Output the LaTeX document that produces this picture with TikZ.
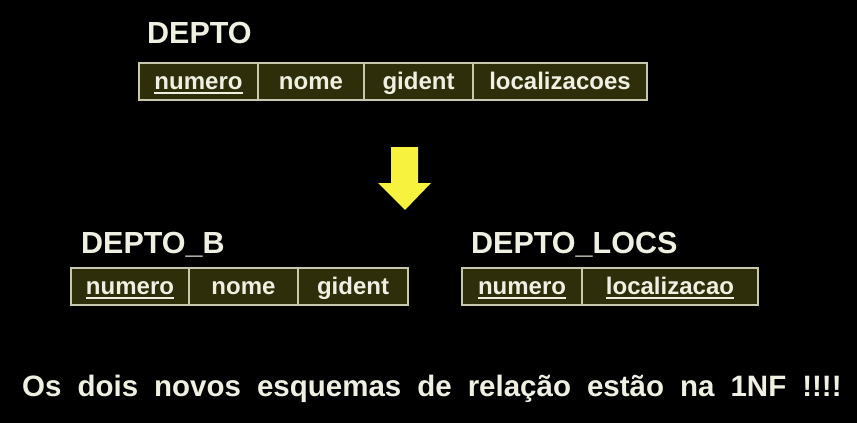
\documentclass[tikz,border=0pt]{standalone}
\usepackage{fontspec}
\setmainfont{Liberation Sans}
\usepackage{tikz}
\usetikzlibrary{positioning}
\definecolor{cellfill}{RGB}{46,46,10}
\definecolor{cellline}{RGB}{200,200,172}
\definecolor{slidetext}{RGB}{240,240,226}
\definecolor{arrowyellow}{RGB}{246,242,62}
\newcommand{\pkey}[1]{\setbox0\hbox{#1}\rlap{\copy0}\rule[-5pt]{\wd0}{2.5pt}}

\begin{document}
\begin{tikzpicture}[x=1pt,y=-1pt]

	\tikzstyle{attrcell} = [draw=cellline,fill=cellfill,line width=1.6pt,inner sep=0pt,outer sep=0pt,minimum height=37pt,text height=18pt,text depth=3pt,text=slidetext,font=\fontsize{24}{28}\selectfont\bfseries]
	\tikzstyle{relname} = [anchor=base west,inner sep=0pt,text=slidetext,font=\fontsize{30.5}{34}\selectfont\bfseries]

	\fill[black] (0,0) rectangle (857,423);

	% DEPTO
	\node[relname] (depto) at (147,43) {DEPTO};
	\node[attrcell,minimum width=119pt,anchor=north west] (d1) at (139,63) {\pkey{numero}};
	\node[attrcell,minimum width=106pt,right=0pt of d1] (d2) {nome};
	\node[attrcell,minimum width=109pt,right=0pt of d2] (d3) {gident};
	\node[attrcell,minimum width=174pt,right=0pt of d3] (d4) {localizacoes};

	% seta
	\fill[arrowyellow] (391,147) -- (418,147) -- (418,183) -- (431,183) -- (405,210) -- (378,183) -- (391,183) -- cycle;

	% DEPTO_B
	\node[relname] (deptob) at (81,253) {DEPTO\_B};
	\node[attrcell,minimum width=118pt,anchor=north west] (b1) at (71,268) {\pkey{numero}};
	\node[attrcell,minimum width=109pt,right=0pt of b1] (b2) {nome};
	\node[attrcell,minimum width=110pt,right=0pt of b2] (b3) {gident};

	% DEPTO_LOCS
	\node[relname] (deptolocs) at (471,253) {DEPTO\_LOCS};
	\node[attrcell,minimum width=120pt,anchor=north west] (l1) at (462,268) {\pkey{numero}};
	\node[attrcell,minimum width=176pt,right=0pt of l1] (l2) {\pkey{localizacao}};

	\node[anchor=base west,inner sep=0pt,text=slidetext,font=\fontsize{29.5}{33}\selectfont\bfseries] (nota) at (22,396)
		{\spaceskip=16pt Os dois novos esquemas de relação estão na 1NF !!!!};

\end{tikzpicture}
\end{document}
